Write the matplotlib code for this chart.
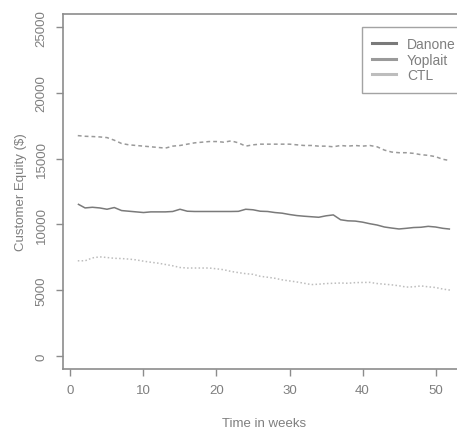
import matplotlib
matplotlib.use("Agg")
import matplotlib.pyplot as plt
import numpy as np

weeks = list(range(1, 53))
danone = [11550, 11250, 11300, 11250, 11150, 11280, 11050, 11000, 10950, 10900,
          10950, 10950, 10950, 10980, 11150, 11000, 10980, 10980, 10980, 10980,
          10980, 10980, 10990, 11150, 11110, 11000, 10980, 10900, 10850, 10750,
          10670, 10620, 10580, 10540, 10650, 10720, 10350, 10270, 10250, 10170,
          10050, 9950, 9800, 9720, 9650, 9700, 9760, 9780, 9850, 9800, 9700, 9640]
yoplait = [16750, 16700, 16680, 16650, 16600, 16400, 16150, 16050, 16000, 15950,
           15900, 15850, 15800, 15950, 16000, 16100, 16200, 16250, 16300, 16300,
           16250, 16350, 16200, 15950, 16050, 16100, 16100, 16100, 16100, 16100,
           16050, 16000, 16000, 15950, 15950, 15900, 16000, 15950, 16000, 15950,
           16000, 15900, 15650, 15500, 15450, 15450, 15400, 15300, 15250, 15150,
           14950, 14850]
ctl = [7230, 7230, 7450, 7530, 7480, 7420, 7400, 7360, 7300, 7200,
       7120, 7050, 6950, 6850, 6720, 6680, 6680, 6680, 6680, 6620,
       6550, 6420, 6330, 6250, 6200, 6050, 5980, 5900, 5780, 5700,
       5620, 5520, 5420, 5450, 5500, 5520, 5540, 5520, 5570, 5580,
       5590, 5500, 5450, 5400, 5330, 5230, 5250, 5320, 5250, 5200, 5080, 5000]
xticks = [0, 10, 20, 30, 40, 50]
yticks = [0, 5000, 10000, 15000, 20000, 25000]
series_names = ["Danone", "Yoplait", "CTL"]

plt.rcParams['font.family'] = ['Liberation Sans', 'DejaVu Sans']
fs = 9.5
txt = '#7f7f7f'
axc = '#8c8c8c'

fig = plt.figure(figsize=(4.57, 4.31), dpi=100)
W, H = 457, 431
l, r, b, t = 62.9, 465.0, 370.0, 15.0
ax = fig.add_axes([l / W, 1 - b / H, (r - l) / W, (b - t) / H])

c_d, c_y, c_c = '#7a7a7a', '#9a9a9a', '#bdbdbd'
ax.plot(weeks, danone, color=c_d, lw=1.1, solid_capstyle='butt')
ax.plot(weeks, yoplait, color=c_y, lw=1.1, dashes=(2.5, 2.0))
ax.plot(weeks, ctl, color=c_c, lw=1.1, dashes=(1.0, 1.5))

ax.set_xlim(-1.04, 54.04)
ax.set_ylim(-1000, 26000)
ax.set_xticks(xticks)
ax.set_yticks(yticks)
ax.set_xticklabels([str(v) for v in xticks])
ax.set_yticklabels([str(v) for v in yticks])
for s in ax.spines.values():
    s.set_color(axc)
    s.set_linewidth(1.2)
ax.tick_params(axis='both', direction='out', length=5, width=1.0, color=axc,
               labelcolor=txt, labelsize=fs)
ax.tick_params(axis='x', pad=6)
ax.tick_params(axis='y', pad=6, labelrotation=90)
for lab in ax.get_yticklabels():
    lab.set_va('center')

ax.set_xlabel("Time in weeks", fontsize=fs, color=txt, labelpad=15)
ax.set_ylabel("Customer Equity ($)", fontsize=fs, color=txt, labelpad=6)

from matplotlib.lines import Line2D
handles = [Line2D([], [], color=c, lw=2.2) for c in (c_d, c_y, c_c)]
leg = ax.legend(handles, series_names, loc='upper left',
                bbox_to_anchor=((361.7 - l) / (r - l), (b - 27.5) / (b - t)),
                fontsize=10, frameon=True, fancybox=False, edgecolor=axc,
                handlelength=1.7, handletextpad=0.8, labelspacing=0.12,
                borderpad=0.75, borderaxespad=0.0)
leg.get_frame().set_linewidth(1.0)
for tx in leg.get_texts():
    tx.set_color(txt)

fig.savefig("out.png", dpi=100)
